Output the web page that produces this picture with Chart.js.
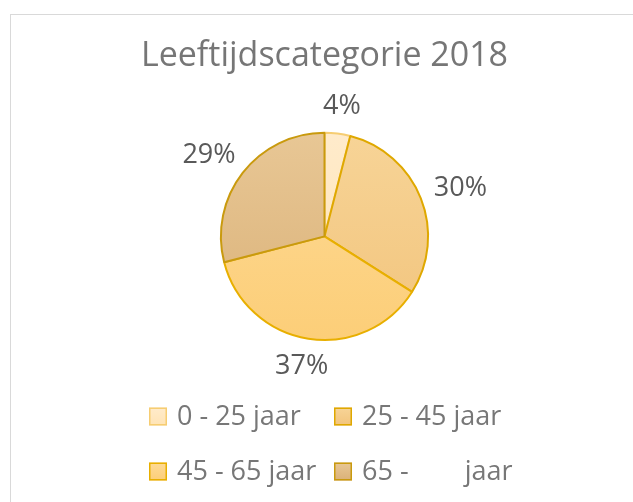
<!DOCTYPE html>
<html>
<head>
<meta charset="utf-8">
<script src="https://cdn.jsdelivr.net/npm/chart.js@4/dist/chart.umd.min.js"></script>
<style>
    html, body { margin: 0; padding: 0; background: #ffffff; }
    #wrap { position: relative; width: 633px; height: 502px; overflow: hidden; }
    #frame { position: absolute; left: 10px; top: 14px; width: 660px; height: 520px; border: 1px solid #d9d9d9; }
    #pie-chart { position: absolute; left: 0; top: 0; }
</style>
</head>
<body>
<div id="wrap">
    <div id="frame"></div>
    <canvas id="pie-chart" width="633" height="502"></canvas>
</div>
<script>
const TITLE = 'Leeftijdscategorie 2018';
const categories = ['0 - 25 jaar', '25 - 45 jaar', '45 - 65 jaar', '65 -        jaar'];
const shares = [4, 30, 37, 29];

const topColors = ['#FFEBCB', '#F7D497', '#FEDA96', '#E8C795'];
const bottomColors = ['#FFE4B5', '#F2C47C', '#FCCE78', '#DAB178'];
const edgeColors = ['#F6CD72', '#DFA800', '#E8AF00', '#C99A0E'];

const FONT = "'Open Sans', 'Noto Sans', sans-serif";

document.addEventListener('DOMContentLoaded', () => {
    const canvas = document.getElementById('pie-chart');

    const gradientFill = (context) => {
        const i = context.dataIndex;
        const area = context.chart.chartArea;
        if (!area) return topColors[i];
        const g = context.chart.ctx.createLinearGradient(0, area.top, 0, area.bottom);
        g.addColorStop(0, topColors[i]);
        g.addColorStop(1, bottomColors[i]);
        return g;
    };

    // percentage labels just outside each slice
    const outsideLabels = {
        id: 'outsideLabels',
        afterDatasetsDraw(chart) {
            const ctx = chart.ctx;
            const meta = chart.getDatasetMeta(0);
            const total = shares.reduce((a, b) => a + b, 0);
            ctx.save();
            ctx.font = '27px ' + FONT;
            ctx.fillStyle = '#595959';
            ctx.textAlign = 'center';
            ctx.textBaseline = 'middle';
            meta.data.forEach((arc, i) => {
                const p = arc.getProps(['x', 'y', 'startAngle', 'endAngle', 'outerRadius'], true);
                const mid = (p.startAngle + p.endAngle) / 2;
                const dx = Math.cos(mid), dy = Math.sin(mid);
                const text = Math.round(shares[i] / total * 100) + '%';
                const w = ctx.measureText(text).width;
                const h = 24;
                const d = p.outerRadius + 16;
                ctx.fillText(text, p.x + dx * d + dx * w / 2, p.y + dy * d + dy * h / 2);
            });
            ctx.restore();
        }
    };

    // two-column legend like the original
    const gridLegend = {
        id: 'gridLegend',
        afterDraw(chart) {
            const ctx = chart.ctx;
            const colX = [149, 334];
            const rowY = [416.5, 471.5];
            ctx.save();
            ctx.font = '27px ' + FONT;
            ctx.textBaseline = 'middle';
            chart.data.labels.forEach((label, i) => {
                const x = colX[i % 2];
                const y = rowY[Math.floor(i / 2)];
                const g = ctx.createLinearGradient(0, y - 9, 0, y + 9);
                g.addColorStop(0, topColors[i]);
                g.addColorStop(1, bottomColors[i]);
                ctx.fillStyle = g;
                ctx.fillRect(x, y - 9, 18, 18);
                ctx.strokeStyle = edgeColors[i];
                ctx.lineWidth = 1.5;
                ctx.strokeRect(x + 0.75, y - 8.25, 16.5, 16.5);
                ctx.fillStyle = '#777777';
                ctx.fillText(label, x + 28, y + 1);
            });
            ctx.restore();
        }
    };

    new Chart(canvas, {
        type: 'pie',
        data: {
            labels: categories,
            datasets: [{
                data: shares,
                backgroundColor: gradientFill,
                borderColor: edgeColors,
                borderWidth: 2
            }]
        },
        options: {
            responsive: false,
            animation: false,
            layout: { padding: { left: 16, right: 0, top: 0, bottom: 161 } },
            plugins: {
                legend: { display: false },
                tooltip: { enabled: false },
                title: {
                    display: true,
                    text: TITLE,
                    color: '#767676',
                    font: { family: FONT, size: 34, weight: 'normal' },
                    padding: { top: 36, bottom: 55 }
                }
            }
        },
        plugins: [outsideLabels, gridLegend]
    });
});
</script>
</body>
</html>
